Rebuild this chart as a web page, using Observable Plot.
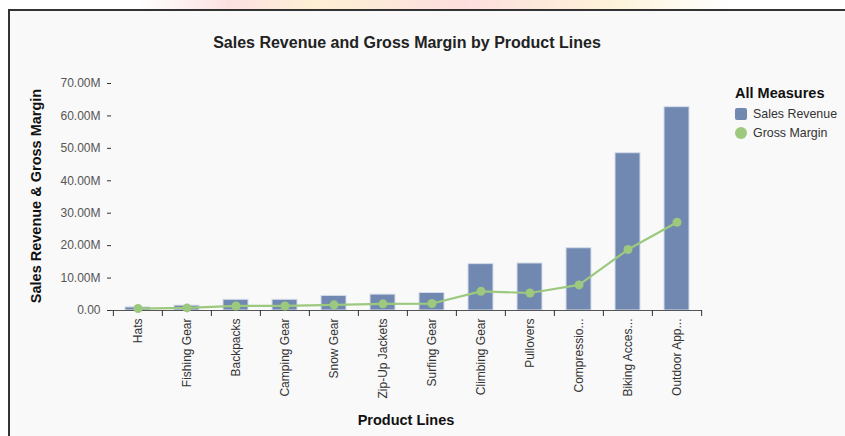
<!DOCTYPE html>
<html><head><meta charset="utf-8">
<script src="https://cdn.jsdelivr.net/npm/d3@7"></script>
<script src="https://cdn.jsdelivr.net/npm/@observablehq/plot@0.6"></script>
<style>
body{margin:0;width:845px;height:436px;overflow:hidden;background:#fff;font-family:"Liberation Sans",Arial,sans-serif;position:relative}
#deco{position:absolute;left:140px;top:0;width:590px;height:10px;background:linear-gradient(90deg,rgba(255,255,255,0) 0%,rgba(250,200,200,0.55) 15%,rgba(252,225,170,0.5) 30%,rgba(250,190,190,0.5) 55%,rgba(252,230,180,0.5) 80%,rgba(255,255,255,0) 100%)}
#frame{position:absolute;left:8px;top:9px;right:-10px;bottom:-10px;border-left:2px solid #333;border-top:2px solid #333;background:#f9f9f9}
#title{position:absolute;top:34px;left:0;width:814px;text-align:center;font-weight:bold;font-size:16px;color:#222}
#ytitle{position:absolute;left:-114px;top:187px;width:300px;height:18px;line-height:18px;text-align:center;font-weight:bold;font-size:14.5px;color:#111;transform:rotate(-90deg)}
#xtitle{position:absolute;top:412px;left:0;width:812px;text-align:center;font-weight:bold;font-size:14.5px;color:#111}
#legend{position:absolute;left:735px;top:85px;font-size:12.4px;color:#333}
#legend .h{font-weight:bold;font-size:14.5px;color:#111;margin-bottom:3px}
#legend .it{display:flex;align-items:center;height:19px}
#legend .sw{width:12px;height:12px;margin-right:6px;border-radius:2px}
#chart{position:absolute;left:0;top:0}
</style>
</head><body>
<div id="deco"></div>
<div id="frame"></div>
<div id="title">Sales Revenue and Gross Margin by Product Lines</div>
<div id="ytitle">Sales Revenue &amp; Gross Margin</div>
<div id="xtitle">Product Lines</div>
<div id="legend"></div>
<div id="chart"></div>
<script>
const categories = ["Hats","Fishing Gear","Backpacks","Camping Gear","Snow Gear","Zip-Up Jackets","Surfing Gear","Climbing Gear","Pullovers","Compressio...","Biking Acces...","Outdoor App..."];
const salesRevenue = [0.95e6,1.5e6,3.3e6,3.3e6,4.5e6,4.9e6,5.4e6,14.3e6,14.5e6,19.2e6,48.5e6,62.7e6];
const grossMargin = [0.6e6,0.8e6,1.4e6,1.4e6,1.75e6,2.05e6,2.15e6,5.9e6,5.4e6,7.9e6,18.8e6,27.2e6];
const yTicks = [0,10e6,20e6,30e6,40e6,50e6,60e6,70e6];
const seriesNames = ["Sales Revenue","Gross Margin"];
const colors = ["#7189b0","#9cc97e"];

const rows = categories.map((c,i)=>({cat:c, rev:salesRevenue[i], gm:grossMargin[i]}));
const W=845,H=436,mL=111,mR=143,mT=83,mB=126;
const step=(W-mL-mR)/categories.length;

const plot = Plot.plot({
  width:W,height:H,marginLeft:mL,marginRight:mR,marginTop:mT,marginBottom:mB,
  style:{background:"transparent",fontFamily:"Liberation Sans, Arial, sans-serif",fontSize:"12px",color:"#555",overflow:"visible"},
  x:{domain:categories,paddingInner:0.5,paddingOuter:0.25,label:null},
  y:{domain:[0,70e6],label:null},
  marks:[
    Plot.barY(rows,{x:"cat",y:"rev",fill:colors[0],stroke:"#d6ddea",strokeWidth:1}),
    Plot.ruleY([0],{stroke:"#555"}),
    Plot.ruleX(categories,{x:d=>d,y1:0,y2:0,insetBottom:-6,dx:-step/2,stroke:"#333"}),
    Plot.ruleX([categories[categories.length-1]],{x:d=>d,y1:0,y2:0,insetBottom:-6,dx:step/2,stroke:"#333"}),
    Plot.lineY(rows,{x:"cat",y:"gm",stroke:colors[1],strokeWidth:2.2}),
    Plot.dot(rows,{x:"cat",y:"gm",r:4.5,fill:colors[1]}),
    Plot.axisY({ticks:yTicks,tickFormat:d=>d===0?"0.00":(d/1e6).toFixed(2)+"M",tickSize:4,tickPadding:7,fontSize:12,label:null,stroke:"#333"}),
    Plot.axisX({tickRotate:-90,tickSize:0,tickPadding:8,fontSize:12,label:null,fill:"#333"})
  ]
});
document.getElementById("chart").appendChild(plot);

const lg=document.getElementById("legend");
lg.innerHTML='<div class="h">All Measures</div>'+seriesNames.map((n,i)=>
  `<div class="it"><span class="sw" style="background:${colors[i]};${i===1?'border-radius:50%':''}"></span>${n}</div>`).join("");
</script>
</body></html>
